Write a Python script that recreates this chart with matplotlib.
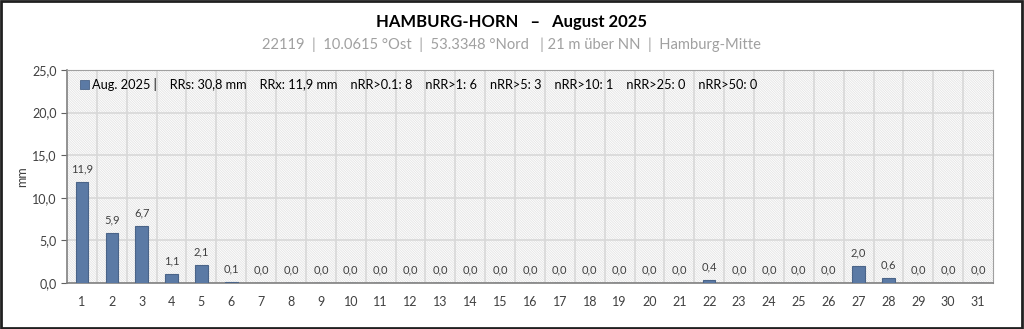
import matplotlib
matplotlib.use("Agg")
import matplotlib.pyplot as plt
from matplotlib.patches import Rectangle

plt.rcParams['font.family'] = ['Lato', 'DejaVu Sans']
plt.rcParams['hatch.color'] = '#e4e4e4'
plt.rcParams['hatch.linewidth'] = 0.6

# daily precipitation, August 2025
days = list(range(1, 32))
rain = [11.9, 5.9, 6.7, 1.1, 2.1, 0.1, 0.0, 0.0, 0.0, 0.0,
        0.0, 0.0, 0.0, 0.0, 0.0, 0.0, 0.0, 0.0, 0.0, 0.0,
        0.0, 0.4, 0.0, 0.0, 0.0, 0.0, 2.0, 0.6, 0.0, 0.0, 0.0]
y_ticks = [0, 5, 10, 15, 20, 25]
thresholds = [0.1, 1, 5, 10, 25, 50]

title = "HAMBURG-HORN   \u2013   August 2025"
subtitle = "22119  |  10.0615 \u00b0Ost  |  53.3348 \u00b0Nord   | 21 m \u00fcber NN  |  Hamburg-Mitte"

def de(v):
    return f"{v:.1f}".replace(".", ",")

bar_col = '#5b7aa5'
edge_col = '#4a6488'
txt_col = '#404040'

fig = plt.figure(figsize=(10.24, 3.29), dpi=100)
ax = fig.add_axes([67 / 1024, 1 - 283 / 329, 926 / 1024, 213 / 329])

# hatched background
ax.add_patch(Rectangle((0, 0), 1, 1, transform=ax.transAxes, facecolor='white',
                       edgecolor='#e4e4e4', hatch='\\' * 14, linewidth=0, zorder=0))

ax.bar(days, rain, width=0.42, color=bar_col, edgecolor=edge_col, linewidth=0.8, zorder=3)
for d, v in zip(days, rain):
    ax.text(d, v + 0.9, de(v), ha='center', va='bottom', fontsize=8, color=txt_col, zorder=4)

ax.set_xlim(0.5, 31.5)
ax.set_ylim(0, 25)
ax.set_yticks(y_ticks)
ax.set_yticklabels([de(t) for t in y_ticks])
ax.set_xticks(days)
ax.set_xticks([d + 0.5 for d in days[:-1]], minor=True)
ax.grid(True, which='minor', axis='x', color='#d8d8d8', linewidth=1.2, zorder=1)
ax.grid(True, which='major', axis='y', color='#d8d8d8', linewidth=1.2, zorder=1)
ax.tick_params(axis='x', which='both', length=0, pad=9, labelsize=9, labelcolor=txt_col)
ax.tick_params(axis='y', length=4, direction='out', color='#606060', labelsize=9, labelcolor=txt_col)
ax.set_ylabel("mm", fontsize=9, color=txt_col, labelpad=3)
ax.set_axisbelow(True)
for s in ['top', 'right']:
    ax.spines[s].set_color('#a0a0a0')
for s in ['left', 'bottom']:
    ax.spines[s].set_color('#808080')
    ax.spines[s].set_linewidth(1.2)

# statistics line
stats = [f"RRs: {de(sum(rain))} mm", f"RRx: {de(max(rain))} mm"]
stats += [f"nRR>{t}: {sum(1 for v in rain if v > t)}" for t in thresholds]
label = "Aug. 2025 |    " + "    ".join(stats)
ax.add_patch(Rectangle((0.014, 0.91), 0.01, 0.042, transform=ax.transAxes,
                       facecolor=bar_col, edgecolor=edge_col, linewidth=0.6, zorder=5))
ax.text(0.0275, 0.93, label, transform=ax.transAxes, fontsize=9.2, color='black',
        va='center', ha='left', zorder=5)

fig.text(0.5, 1 - 22 / 329, title, ha='center', va='center', fontsize=12, fontweight='bold')
fig.text(0.5, 1 - 45 / 329, subtitle, ha='center', va='center', fontsize=10.6, color='#a0a0a0')

# dark frame around the figure
fig.add_artist(Rectangle((0.001, 0.002), 0.997, 0.995, transform=fig.transFigure,
                         fill=False, edgecolor='#202020', linewidth=2))

fig.savefig("out.png", dpi=100)
